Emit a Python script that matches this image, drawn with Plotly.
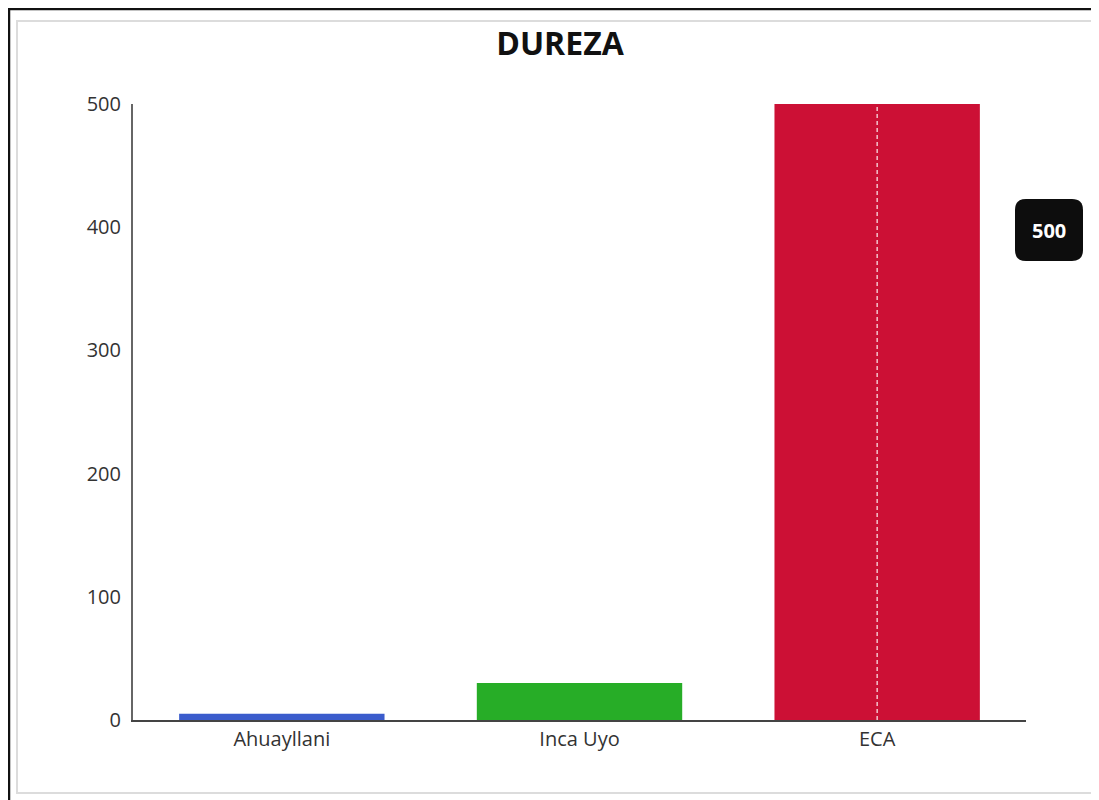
import plotly.graph_objects as go

categories = ["Ahuayllani", "Inca Uyo", "ECA"]
values = [5, 30, 500]
bar_colors = ["#3b5ccc", "#27ad27", "#cc1035"]
y_ticks = [0, 100, 200, 300, 400, 500]
title_text = "DUREZA"
tooltip_text = "500"

# page body has an 8px margin: work in figure pixel coordinates
W, H = 1099, 800
L, R, T, B = 125, 81, 96, 88
pw, ph = W - L - R, H - T - B


def px(x):
    return (x - L) / pw


def py(y):
    return (H - B - y) / ph


fig = go.Figure()
fig.add_trace(go.Bar(
    x=categories, y=values,
    marker=dict(color=bar_colors, line=dict(width=0)),
    hoverinfo="skip", showlegend=False,
))

shapes = []
# outer black frame (partially cut off)
shapes.append(dict(type="rect", xref="paper", yref="paper",
                   x0=px(1), x1=px(W + 20), y0=py(1), y1=py(H + 20),
                   line=dict(color="#111111", width=2.5), fillcolor="rgba(0,0,0,0)", layer="below"))
# inner light gray frame
shapes.append(dict(type="rect", xref="paper", yref="paper",
                   x0=px(9), x1=px(1089), y0=py(13), y1=py(785),
                   line=dict(color="#dcdcdc", width=2), fillcolor="rgba(0,0,0,0)", layer="below"))
# crosshair spike at the hovered bar
shapes.append(dict(type="line", xref="x", yref="y",
                   x0=categories[2], x1=categories[2], y0=0, y1=values[2],
                   line=dict(color="rgba(255,255,255,0.75)", width=1.5, dash="4px,3px")))

# rounded tooltip box
x0, x1, y0, y1, r = 1007, 1075, 191, 253, 11
path = (f"M {px(x0 + r)},{py(y0)} L {px(x1 - r)},{py(y0)} Q {px(x1)},{py(y0)} {px(x1)},{py(y0 + r)} "
        f"L {px(x1)},{py(y1 - r)} Q {px(x1)},{py(y1)} {px(x1 - r)},{py(y1)} "
        f"L {px(x0 + r)},{py(y1)} Q {px(x0)},{py(y1)} {px(x0)},{py(y1 - r)} "
        f"L {px(x0)},{py(y0 + r)} Q {px(x0)},{py(y0)} {px(x0 + r)},{py(y0)} Z")
shapes.append(dict(type="path", xref="paper", yref="paper", path=path,
                   fillcolor="#0d0d0d", line=dict(width=0)))

fig.update_layout(
    width=W, height=H,
    margin=dict(l=L, r=R, t=T, b=B),
    paper_bgcolor="white", plot_bgcolor="white",
    bargap=0.31,
    title=dict(text=f"<b>{title_text}</b>", x=px(552), xref="paper", xanchor="center",
               y=1 - 36 / H, yanchor="middle",
               font=dict(family="Open Sans", size=32, color="#111111")),
    font=dict(family="Open Sans", size=20, color="#333333"),
    shapes=shapes,
    annotations=[dict(xref="paper", yref="paper", x=px(1041), y=py(222),
                      xanchor="center", yanchor="middle",
                      text=f"<b>{tooltip_text}</b>", showarrow=False,
                      font=dict(family="Open Sans", size=20, color="white"))],
)
fig.update_xaxes(showline=True, linecolor="#444444", linewidth=2, showgrid=False,
                 ticks="", tickfont=dict(size=20, color="#333333"))
fig.update_yaxes(range=[0, 500], tickvals=y_ticks, showline=True, linecolor="#666666",
                 linewidth=2, showgrid=False, zeroline=False, ticks="outside",
                 ticklen=6, tickcolor="rgba(0,0,0,0)",
                 tickfont=dict(size=20, color="#333333"))

fig.write_html("out.html")
